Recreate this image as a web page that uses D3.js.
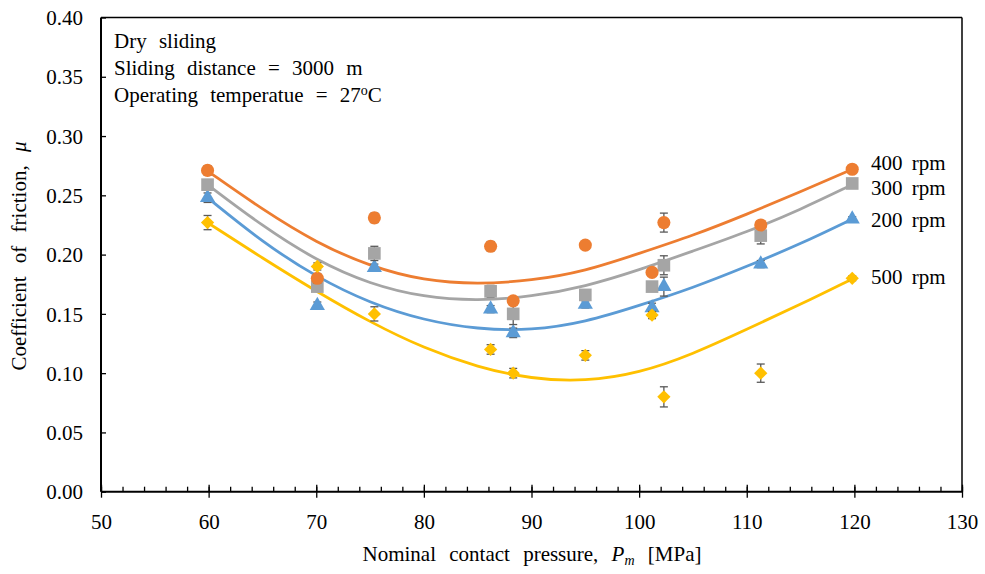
<!DOCTYPE html>
<html>
<head>
<meta charset="utf-8">
<script src="https://cdn.jsdelivr.net/npm/d3@7"></script>
<style>
  body { margin: 0; background: #fff; }
</style>
</head>
<body>
<div id="chart"></div>
<script>
var svgWidth = 985;
var svgHeight = 574;
var serifFont = "'Liberation Serif', 'DejaVu Serif', 'Times New Roman', serif";

var margin = { top: 17.5, right: 23, bottom: 82.3, left: 101 };
var width = svgWidth - margin.left - margin.right;
var height = svgHeight - margin.top - margin.bottom;

var pressure = [59.9, 70.1, 75.4, 86.2, 88.3, 95.0, 101.2, 102.3, 111.3, 119.8];
var cof200 = [0.248, 0.157, 0.189, 0.154, 0.134, 0.158, 0.155, 0.173, 0.192, 0.230];
var cof300 = [0.259, 0.173, 0.201, 0.169, 0.150, 0.166, 0.173, 0.191, 0.216, 0.260];
var cof400 = [0.271, 0.180, 0.231, 0.207, 0.161, 0.208, 0.185, 0.227, 0.225, 0.272];
var cof500 = [0.227, 0.190, 0.150, 0.120, 0.100, 0.115, 0.149, 0.080, 0.100, 0.180];
var err200 = [0.004, 0.003, 0.003, 0.003, 0.004, 0.003, 0.004, 0.008, 0.003, 0.002];
var err300 = [0.003, 0.003, 0.006, 0.005, 0.009, 0.003, 0.003, 0.008, 0.007, 0.003];
var err400 = [0.004, 0.004, 0.004, 0.004, 0.003, 0.003, 0.003, 0.008, 0.003, 0.003];
var err500 = [0.006, 0.003, 0.006, 0.004, 0.004, 0.004, 0.003, 0.0085, 0.0077, 0.002];

// trend curves
var trendX = [59.9, 65, 70, 75, 80, 85, 90, 95, 100, 105, 110, 115, 119.8];
var trend200 = [0.248, 0.2105, 0.181, 0.159, 0.1445, 0.137, 0.136, 0.143, 0.157, 0.172, 0.190, 0.209, 0.230];
var trend300 = [0.259, 0.224, 0.195, 0.175, 0.164, 0.161, 0.1645, 0.173, 0.187, 0.203, 0.219, 0.238, 0.259];
var trend400 = [0.2705, 0.238, 0.210, 0.190, 0.178, 0.175, 0.178, 0.186, 0.201, 0.216, 0.234, 0.253, 0.272];
var trend500 = [0.227, 0.197, 0.169, 0.143, 0.121, 0.105, 0.095, 0.093, 0.100, 0.116, 0.137, 0.158, 0.1795];

var seriesNames = ["200 rpm", "300 rpm", "400 rpm", "500 rpm"];
var xTicks = [50, 60, 70, 80, 90, 100, 110, 120, 130];
var yTicks = [0, 0.05, 0.10, 0.15, 0.20, 0.25, 0.30, 0.35, 0.40];

var series = [
  { name: seriesNames[0], y: cof200, err: err200, trend: trend200, color: "#5B9BD5", shape: d3.symbolTriangle, size: 100, rot: 0 },
  { name: seriesNames[1], y: cof300, err: err300, trend: trend300, color: "#A5A5A5", shape: d3.symbolSquare, size: 160, rot: 0 },
  { name: seriesNames[2], y: cof400, err: err400, trend: trend400, color: "#ED7D31", shape: d3.symbolCircle, size: 135, rot: 0 },
  { name: seriesNames[3], y: cof500, err: err500, trend: trend500, color: "#FFC000", shape: d3.symbolSquare, size: 88, rot: 45 }
];

// label baselines on the right
var labelY = { "400 rpm": 170, "300 rpm": 195, "200 rpm": 227, "500 rpm": 284 };

var svg = d3.select("#chart")
  .append("svg")
  .attr("width", svgWidth)
  .attr("height", svgHeight)
  .attr("font-family", serifFont)
  .style("font-family", serifFont);

var chartGroup = svg.append("g")
  .attr("transform", `translate(${margin.left}, ${margin.top})`);

var xScale = d3.scaleLinear().domain([50, 130]).range([0, width]);
var yScale = d3.scaleLinear().domain([0, 0.4]).range([height, 0]);

// plot border (top and right)
chartGroup.append("line")
  .attr("x1", 0).attr("x2", width).attr("y1", 0).attr("y2", 0)
  .attr("stroke", "#000").attr("stroke-width", 1.5);
chartGroup.append("line")
  .attr("x1", width).attr("x2", width).attr("y1", 0).attr("y2", height)
  .attr("stroke", "#000").attr("stroke-width", 1.5);

// trendlines
var line = d3.line()
  .x(d => xScale(d[0]))
  .y(d => yScale(d[1]))
  .curve(d3.curveBasis);

series.forEach(function(s) {
  chartGroup.append("path")
    .datum(trendX.map((x, i) => [x, s.trend[i]]))
    .attr("d", line)
    .attr("fill", "none")
    .attr("stroke", s.color)
    .attr("stroke-width", 2.8);
});

// error bars + markers
series.forEach(function(s) {
  var g = chartGroup.append("g");
  var pts = pressure.map((x, i) => ({ x: x, y: s.y[i], e: s.err[i] }));
  var eb = g.selectAll(".err").data(pts).enter().append("g").attr("class", "err")
    .attr("stroke", "#595959").attr("stroke-width", 1.3);
  eb.append("line")
    .attr("x1", d => xScale(d.x)).attr("x2", d => xScale(d.x))
    .attr("y1", d => yScale(d.y - d.e)).attr("y2", d => yScale(d.y + d.e));
  eb.append("line")
    .attr("x1", d => xScale(d.x) - 4).attr("x2", d => xScale(d.x) + 4)
    .attr("y1", d => yScale(d.y - d.e)).attr("y2", d => yScale(d.y - d.e));
  eb.append("line")
    .attr("x1", d => xScale(d.x) - 4).attr("x2", d => xScale(d.x) + 4)
    .attr("y1", d => yScale(d.y + d.e)).attr("y2", d => yScale(d.y + d.e));

  g.selectAll(".mark").data(pts).enter().append("path")
    .attr("class", "mark")
    .attr("d", d3.symbol().type(s.shape).size(s.size))
    .attr("transform", d => `translate(${xScale(d.x)},${yScale(d.y)}) rotate(${s.rot})`)
    .attr("fill", s.color);

  svg.append("text")
    .attr("x", 871)
    .attr("y", labelY[s.name])
    .style("font-size", "21px")
    .style("word-spacing", "4px")
    .text(s.name);
});

// x axis: minor ticks (inside), major ticks (crossing)
chartGroup.append("g")
  .attr("transform", `translate(0, ${height})`)
  .call(d3.axisBottom(xScale).tickValues(d3.range(50, 131, 2)).tickSize(-5).tickSizeOuter(0).tickFormat(""))
  .call(g => g.select(".domain").remove())
  .selectAll("line").attr("stroke", "#000").attr("stroke-width", 1.3);

var xAxis = chartGroup.append("g")
  .attr("transform", `translate(0, ${height})`)
  .call(d3.axisBottom(xScale).tickValues(xTicks).tickSize(6).tickSizeOuter(0));
xAxis.attr("font-family", serifFont);
xAxis.select(".domain").remove();
xAxis.selectAll(".tick line").attr("y1", -7).attr("stroke", "#000").attr("stroke-width", 1.3);
xAxis.selectAll(".tick text")
  .attr("y", 37).attr("dy", null)
  .style("font-size", "21px");

var yAxis = chartGroup.append("g")
  .call(d3.axisLeft(yScale).tickValues(yTicks).tickSize(6).tickSizeOuter(0).tickFormat(d3.format(".2f")));
yAxis.attr("font-family", serifFont);
yAxis.select(".domain").remove();
yAxis.selectAll(".tick line").attr("x2", 5).attr("stroke", "#000").attr("stroke-width", 1.3);
yAxis.selectAll(".tick text")
  .attr("x", -18).attr("dy", "0.34em")
  .style("font-size", "21px");

// axis lines
chartGroup.append("line")
  .attr("x1", 0).attr("x2", width).attr("y1", height).attr("y2", height)
  .attr("stroke", "#000").attr("stroke-width", 2);
chartGroup.append("line")
  .attr("x1", 0).attr("x2", 0).attr("y1", 0).attr("y2", height)
  .attr("stroke", "#000").attr("stroke-width", 2);

// axis titles
var xTitle = svg.append("text")
  .attr("x", 532).attr("y", 561)
  .attr("text-anchor", "middle")
  .style("font-size", "21px")
  .style("word-spacing", "8px");
xTitle.append("tspan").text("Nominal contact pressure, ");
xTitle.append("tspan").style("font-style", "italic").text("P");
xTitle.append("tspan").style("font-style", "italic").style("font-size", "14px").attr("dy", 4).text("m");
xTitle.append("tspan").attr("dy", -4).text(" [MPa]");

var yTitle = svg.append("text")
  .attr("transform", "translate(26, 256) rotate(-90)")
  .attr("text-anchor", "middle")
  .style("font-size", "21px")
  .style("word-spacing", "8px");
yTitle.append("tspan").text("Coefficient of friction, ");
yTitle.append("tspan").style("font-style", "italic").text("\u03bc");

// annotation
var notes = svg.append("g").style("font-size", "21px").style("word-spacing", "7px");
notes.append("text").attr("x", 114).attr("y", 48).text("Dry sliding");
notes.append("text").attr("x", 114).attr("y", 75).text("Sliding distance = 3000 m");
var t3 = notes.append("text").attr("x", 114).attr("y", 102);
t3.append("tspan").text("Operating temperatue = 27");
t3.append("tspan").attr("dy", -7).style("font-size", "14px").text("o");
t3.append("tspan").attr("dy", 7).text("C");
</script>
</body>
</html>
